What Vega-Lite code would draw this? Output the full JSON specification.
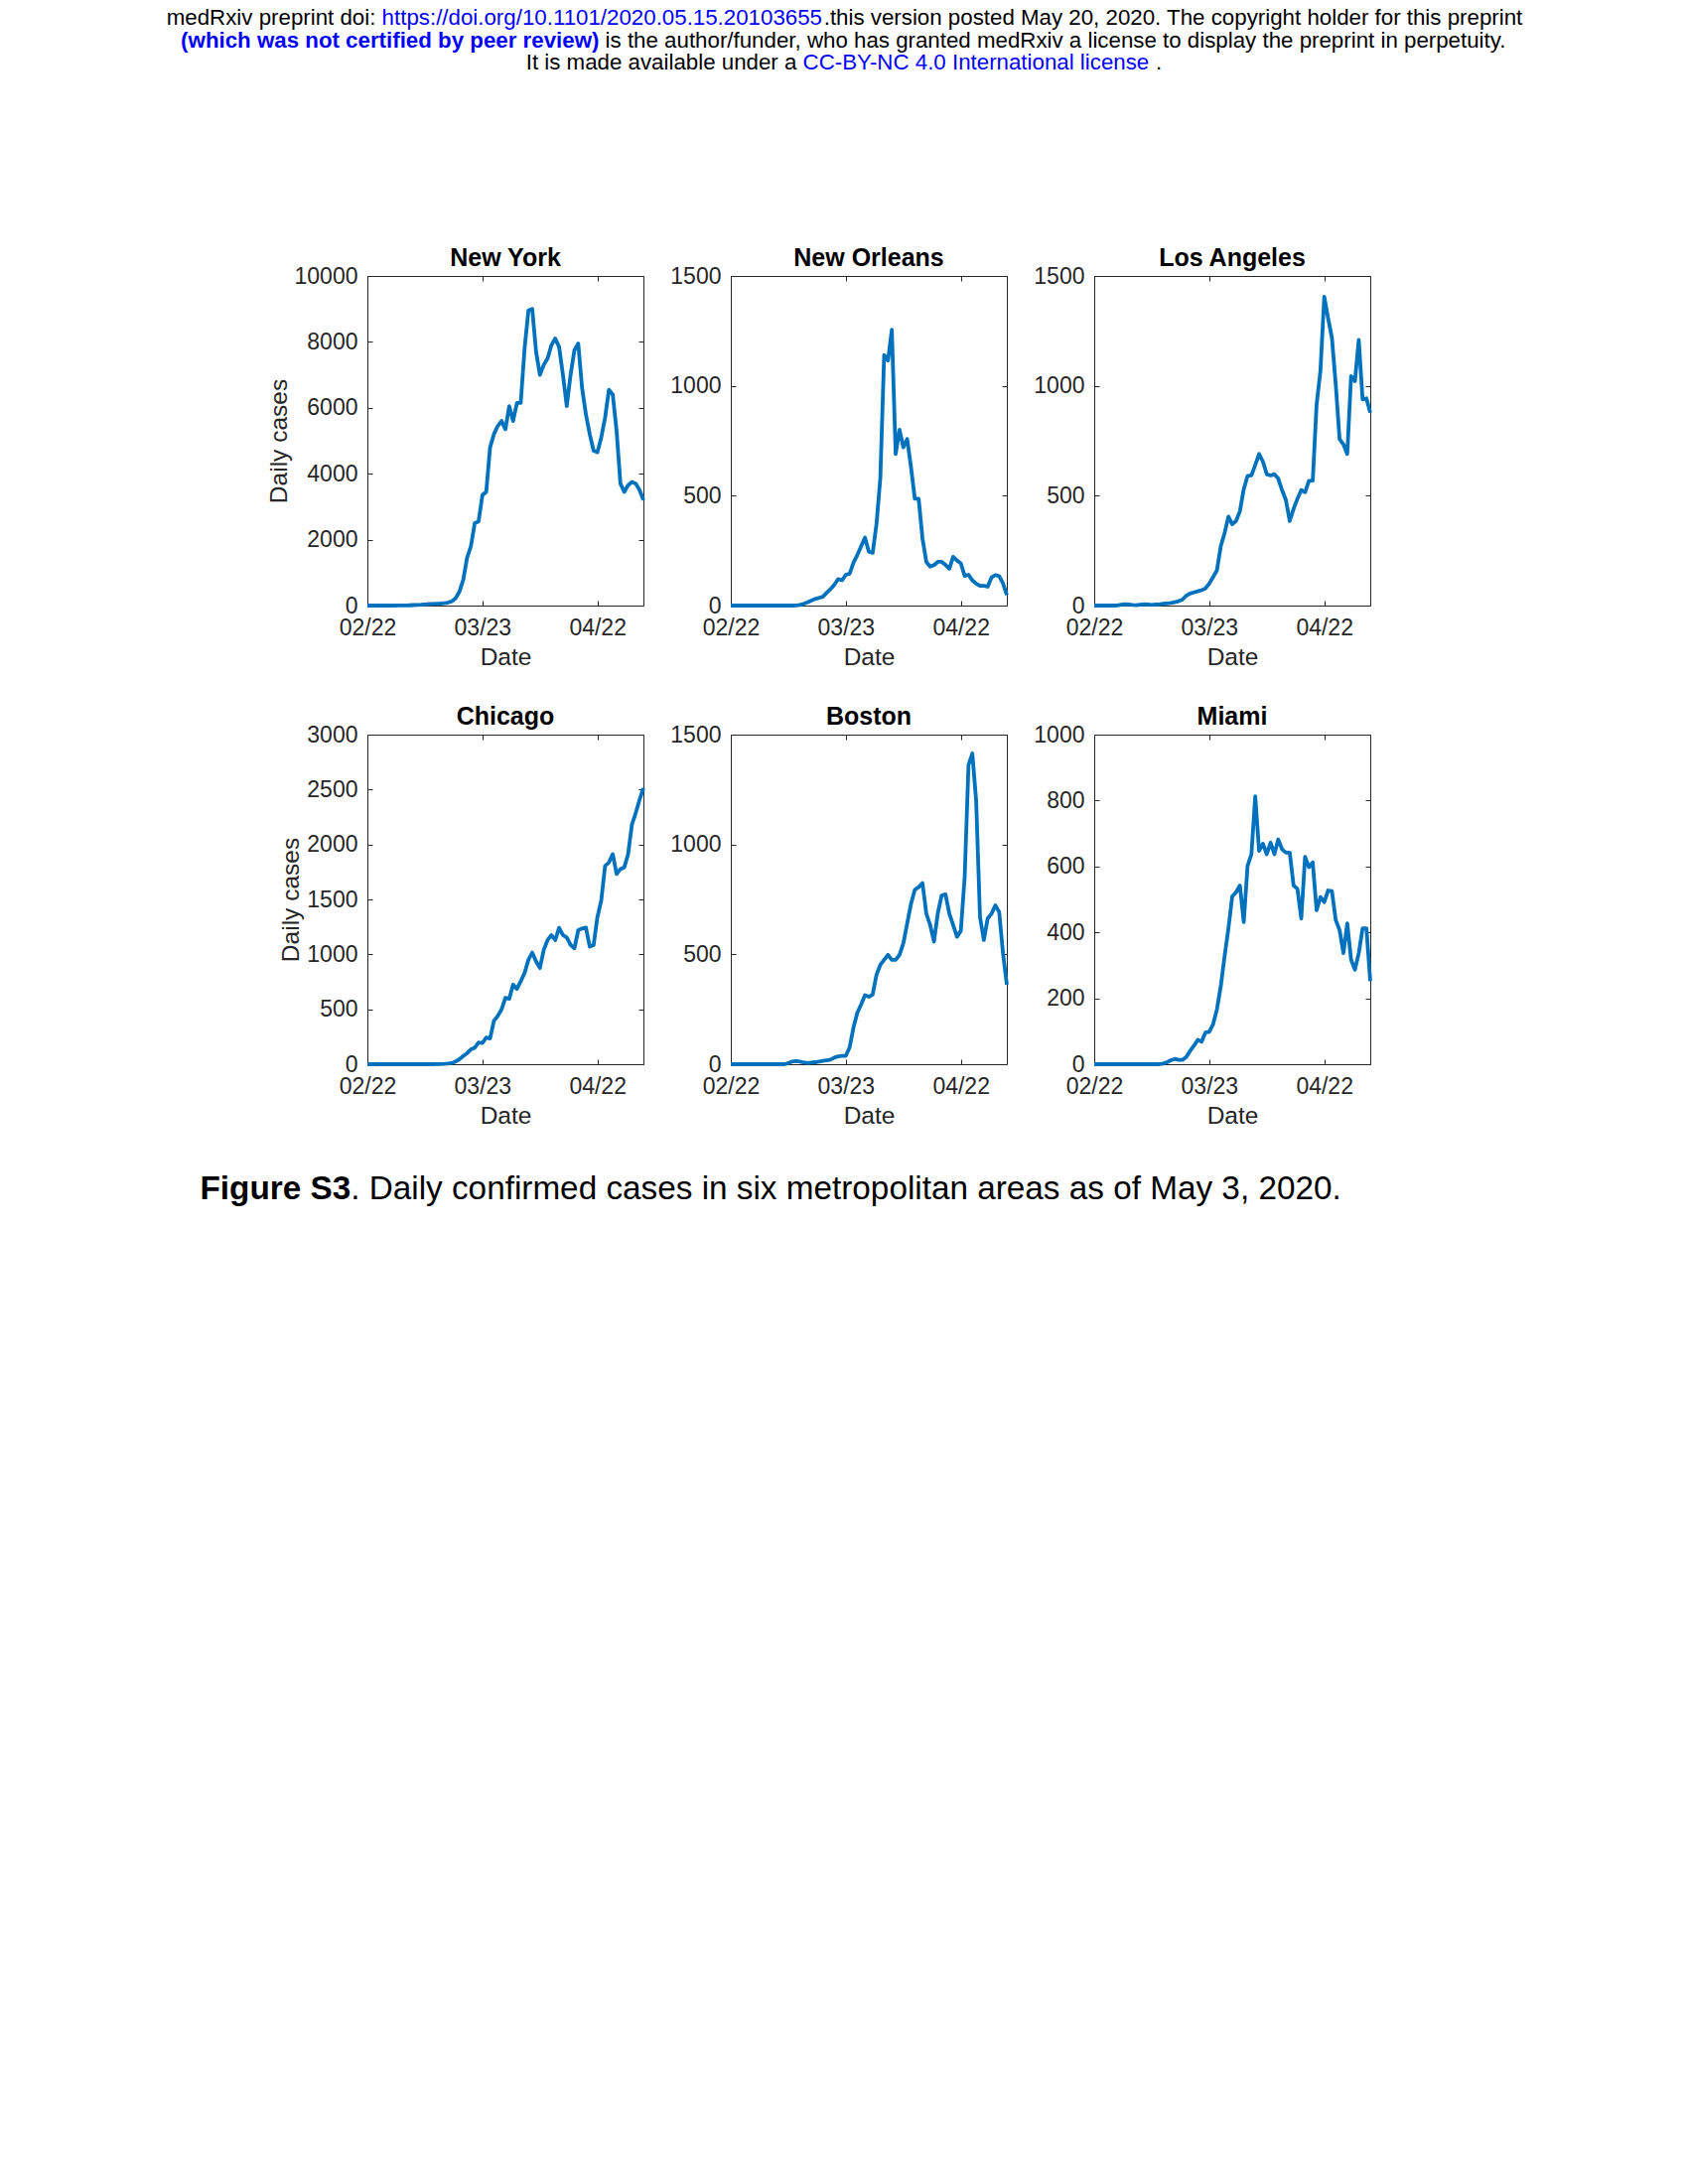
{
  "$schema": "https://vega.github.io/schema/vega-lite/v6.json",
  "background": "white",
  "padding": {"left": 167, "top": 7, "right": 10, "bottom": 10},
  "data": {"values": [
    {"date":"2020-02-22","NY":0,"NO":0,"LA":0,"CHI":0,"BOS":0,"MIA":0},
    {"date":"2020-02-23","NY":0,"NO":0,"LA":0,"CHI":0,"BOS":0,"MIA":0},
    {"date":"2020-02-24","NY":0,"NO":0,"LA":0,"CHI":0,"BOS":0,"MIA":0},
    {"date":"2020-02-25","NY":0,"NO":0,"LA":0,"CHI":0,"BOS":0,"MIA":0},
    {"date":"2020-02-26","NY":0,"NO":0,"LA":0,"CHI":0,"BOS":0,"MIA":0},
    {"date":"2020-02-27","NY":0,"NO":0,"LA":0,"CHI":0,"BOS":0,"MIA":0},
    {"date":"2020-02-28","NY":0,"NO":0,"LA":1,"CHI":0,"BOS":0,"MIA":0},
    {"date":"2020-02-29","NY":0,"NO":0,"LA":4,"CHI":0,"BOS":0,"MIA":0},
    {"date":"2020-03-01","NY":1,"NO":0,"LA":6,"CHI":0,"BOS":0,"MIA":0},
    {"date":"2020-03-02","NY":1,"NO":0,"LA":5,"CHI":0,"BOS":0,"MIA":0},
    {"date":"2020-03-03","NY":3,"NO":0,"LA":3,"CHI":0,"BOS":0,"MIA":0},
    {"date":"2020-03-04","NY":8,"NO":0,"LA":2,"CHI":0,"BOS":0,"MIA":0},
    {"date":"2020-03-05","NY":15,"NO":0,"LA":4,"CHI":0,"BOS":0,"MIA":0},
    {"date":"2020-03-06","NY":20,"NO":0,"LA":6,"CHI":0,"BOS":0,"MIA":0},
    {"date":"2020-03-07","NY":25,"NO":0,"LA":5,"CHI":0,"BOS":0,"MIA":0},
    {"date":"2020-03-08","NY":35,"NO":0,"LA":3,"CHI":0,"BOS":5,"MIA":0},
    {"date":"2020-03-09","NY":45,"NO":0,"LA":5,"CHI":0,"BOS":12,"MIA":0},
    {"date":"2020-03-10","NY":50,"NO":1,"LA":5,"CHI":0,"BOS":14,"MIA":0},
    {"date":"2020-03-11","NY":55,"NO":3,"LA":8,"CHI":1,"BOS":12,"MIA":2},
    {"date":"2020-03-12","NY":60,"NO":8,"LA":10,"CHI":2,"BOS":8,"MIA":6},
    {"date":"2020-03-13","NY":75,"NO":15,"LA":12,"CHI":3,"BOS":5,"MIA":12},
    {"date":"2020-03-14","NY":90,"NO":23,"LA":15,"CHI":5,"BOS":7,"MIA":16},
    {"date":"2020-03-15","NY":130,"NO":30,"LA":20,"CHI":10,"BOS":9,"MIA":13},
    {"date":"2020-03-16","NY":220,"NO":35,"LA":27,"CHI":25,"BOS":12,"MIA":13},
    {"date":"2020-03-17","NY":420,"NO":40,"LA":45,"CHI":45,"BOS":15,"MIA":22},
    {"date":"2020-03-18","NY":780,"NO":58,"LA":55,"CHI":75,"BOS":18,"MIA":40},
    {"date":"2020-03-19","NY":1450,"NO":75,"LA":60,"CHI":100,"BOS":21,"MIA":56},
    {"date":"2020-03-20","NY":1800,"NO":95,"LA":65,"CHI":135,"BOS":30,"MIA":74},
    {"date":"2020-03-21","NY":2500,"NO":120,"LA":70,"CHI":150,"BOS":36,"MIA":68},
    {"date":"2020-03-22","NY":2550,"NO":115,"LA":78,"CHI":198,"BOS":38,"MIA":96},
    {"date":"2020-03-23","NY":3350,"NO":140,"LA":100,"CHI":192,"BOS":38,"MIA":98},
    {"date":"2020-03-24","NY":3450,"NO":145,"LA":130,"CHI":243,"BOS":77,"MIA":121},
    {"date":"2020-03-25","NY":4800,"NO":195,"LA":160,"CHI":234,"BOS":167,"MIA":166},
    {"date":"2020-03-26","NY":5200,"NO":230,"LA":270,"CHI":394,"BOS":234,"MIA":236},
    {"date":"2020-03-27","NY":5450,"NO":270,"LA":330,"CHI":439,"BOS":272,"MIA":327},
    {"date":"2020-03-28","NY":5600,"NO":310,"LA":405,"CHI":499,"BOS":314,"MIA":412},
    {"date":"2020-03-29","NY":5350,"NO":245,"LA":370,"CHI":604,"BOS":307,"MIA":509},
    {"date":"2020-03-30","NY":6050,"NO":240,"LA":385,"CHI":595,"BOS":317,"MIA":522},
    {"date":"2020-03-31","NY":5600,"NO":370,"LA":430,"CHI":724,"BOS":407,"MIA":542},
    {"date":"2020-04-01","NY":6150,"NO":580,"LA":530,"CHI":685,"BOS":452,"MIA":431},
    {"date":"2020-04-02","NY":6150,"NO":1140,"LA":590,"CHI":755,"BOS":475,"MIA":602},
    {"date":"2020-04-03","NY":7800,"NO":1115,"LA":592,"CHI":830,"BOS":498,"MIA":637},
    {"date":"2020-04-04","NY":8950,"NO":1255,"LA":640,"CHI":950,"BOS":475,"MIA":813},
    {"date":"2020-04-05","NY":9000,"NO":690,"LA":690,"CHI":1016,"BOS":475,"MIA":647},
    {"date":"2020-04-06","NY":7700,"NO":800,"LA":655,"CHI":935,"BOS":498,"MIA":669},
    {"date":"2020-04-07","NY":7000,"NO":720,"LA":598,"CHI":875,"BOS":550,"MIA":637},
    {"date":"2020-04-08","NY":7300,"NO":758,"LA":592,"CHI":1040,"BOS":640,"MIA":672},
    {"date":"2020-04-09","NY":7500,"NO":630,"LA":598,"CHI":1130,"BOS":730,"MIA":637},
    {"date":"2020-04-10","NY":7900,"NO":486,"LA":578,"CHI":1175,"BOS":794,"MIA":682},
    {"date":"2020-04-11","NY":8100,"NO":486,"LA":525,"CHI":1130,"BOS":806,"MIA":652},
    {"date":"2020-04-12","NY":7850,"NO":305,"LA":480,"CHI":1241,"BOS":824,"MIA":642},
    {"date":"2020-04-13","NY":7000,"NO":199,"LA":385,"CHI":1175,"BOS":685,"MIA":642},
    {"date":"2020-04-14","NY":6050,"NO":177,"LA":440,"CHI":1154,"BOS":633,"MIA":542},
    {"date":"2020-04-15","NY":7000,"NO":184,"LA":486,"CHI":1085,"BOS":558,"MIA":532},
    {"date":"2020-04-16","NY":7750,"NO":199,"LA":525,"CHI":1055,"BOS":688,"MIA":442},
    {"date":"2020-04-17","NY":7950,"NO":199,"LA":516,"CHI":1220,"BOS":768,"MIA":629},
    {"date":"2020-04-18","NY":6600,"NO":185,"LA":568,"CHI":1235,"BOS":773,"MIA":598},
    {"date":"2020-04-19","NY":5800,"NO":168,"LA":569,"CHI":1244,"BOS":685,"MIA":612},
    {"date":"2020-04-20","NY":5200,"NO":222,"LA":914,"CHI":1070,"BOS":633,"MIA":467},
    {"date":"2020-04-21","NY":4700,"NO":205,"LA":1067,"CHI":1085,"BOS":580,"MIA":507},
    {"date":"2020-04-22","NY":4650,"NO":192,"LA":1406,"CHI":1340,"BOS":607,"MIA":492},
    {"date":"2020-04-23","NY":5100,"NO":135,"LA":1308,"CHI":1490,"BOS":851,"MIA":527},
    {"date":"2020-04-24","NY":5700,"NO":140,"LA":1218,"CHI":1806,"BOS":1362,"MIA":525},
    {"date":"2020-04-25","NY":6550,"NO":115,"LA":1006,"CHI":1836,"BOS":1414,"MIA":437},
    {"date":"2020-04-26","NY":6400,"NO":100,"LA":757,"CHI":1912,"BOS":1197,"MIA":407},
    {"date":"2020-04-27","NY":5300,"NO":90,"LA":734,"CHI":1731,"BOS":670,"MIA":337},
    {"date":"2020-04-28","NY":3700,"NO":90,"LA":690,"CHI":1776,"BOS":565,"MIA":427},
    {"date":"2020-04-29","NY":3450,"NO":86,"LA":1044,"CHI":1791,"BOS":663,"MIA":317},
    {"date":"2020-04-30","NY":3650,"NO":128,"LA":1021,"CHI":1912,"BOS":685,"MIA":287},
    {"date":"2020-05-01","NY":3750,"NO":139,"LA":1209,"CHI":2182,"BOS":723,"MIA":337},
    {"date":"2020-05-02","NY":3700,"NO":134,"LA":938,"CHI":2288,"BOS":693,"MIA":412},
    {"date":"2020-05-03","NY":3500,"NO":101,"LA":943,"CHI":2408,"BOS":505,"MIA":412},
    {"date":"2020-05-04","NY":3200,"NO":48,"LA":878,"CHI":2513,"BOS":362,"MIA":252}
  ]},
  "columns": 3,
  "bounds": "flush",
  "spacing": {"row": 130, "column": 88},
  "concat": [
    {
      "width": 278, "height": 332,
      "layer": [
        {"mark": {"type": "line", "color": "#0072BD", "strokeWidth": 3.8, "strokeJoin": "round"},
         "encoding": {
           "x": {"field": "date", "type": "temporal", "scale": {"type": "utc", "domain": [{"year":2020,"month":2,"date":22,"utc":true},{"year":2020,"month":5,"date":4,"utc":true}]},
                 "axis": {"values": [{"year":2020,"month":2,"date":22,"utc":true},{"year":2020,"month":3,"date":23,"utc":true},{"year":2020,"month":4,"date":22,"utc":true}], "format": "%m/%d", "title": "Date"}},
           "y": {"field": "NY", "type": "quantitative", "scale": {"domain": [0, 10000], "nice": false}, "axis": {"values": [0,2000,4000,6000,8000,10000], "format": "d", "title": "Daily cases"}}}},
        {"mark": {"type": "line", "opacity": 0},
         "encoding": {
           "x": {"field": "date", "type": "temporal", "axis": {"orient": "top", "labels": false, "title": null, "values": [{"year":2020,"month":2,"date":22,"utc":true},{"year":2020,"month":3,"date":23,"utc":true},{"year":2020,"month":4,"date":22,"utc":true}]}},
           "y": {"field": "NY", "type": "quantitative", "axis": {"orient": "right", "labels": false, "title": null, "values": [0,2000,4000,6000,8000,10000]}}}},
        {"data": {"values": [{"t": "New York"}]},
         "mark": {"type": "text", "font": "Liberation Sans", "fontSize": 25, "fontWeight": "bold", "baseline": "alphabetic", "align": "center", "dy": -176, "color": "#000000"},
         "encoding": {"text": {"field": "t"}}},
        {"data": {"values": [{"t": "medRxiv preprint doi:"}]},
         "mark": {"type": "text", "font": "Liberation Sans", "fontSize": 22.3, "baseline": "alphabetic", "align": "right", "dx": -130.6, "dy": -418.8, "color": "#000000"},
         "encoding": {"text": {"field": "t"}}},
        {"data": {"values": [{"t": "https://doi.org/10.1101/2020.05.15.20103655"}]},
         "mark": {"type": "text", "font": "Liberation Sans", "fontSize": 22.3, "baseline": "alphabetic", "align": "left", "dx": -124.4, "dy": -418.8, "color": "#0000FF"},
         "encoding": {"text": {"field": "t"}}},
        {"data": {"values": [{"t": ".this version posted May 20, 2020. The copyright holder for this preprint"}]},
         "mark": {"type": "text", "font": "Liberation Sans", "fontSize": 22.3, "baseline": "alphabetic", "align": "left", "dx": 320.7, "dy": -418.8, "color": "#000000"},
         "encoding": {"text": {"field": "t"}}},
        {"data": {"values": [{"t": "(which was not certified by peer review)"}]},
         "mark": {"type": "text", "font": "Liberation Sans", "fontSize": 22.3, "fontWeight": "bold", "baseline": "alphabetic", "align": "right", "dx": 94.4, "dy": -396.3, "color": "#0000FF"},
         "encoding": {"text": {"field": "t"}}},
        {"data": {"values": [{"t": "is the author/funder, who has granted medRxiv a license to display the preprint in perpetuity."}]},
         "mark": {"type": "text", "font": "Liberation Sans", "fontSize": 22.3, "baseline": "alphabetic", "align": "left", "dx": 100.6, "dy": -396.3, "color": "#000000"},
         "encoding": {"text": {"field": "t"}}},
        {"data": {"values": [{"t": "It is made available under a"}]},
         "mark": {"type": "text", "font": "Liberation Sans", "fontSize": 22.3, "baseline": "alphabetic", "align": "right", "dx": 293.4, "dy": -373.8, "color": "#000000"},
         "encoding": {"text": {"field": "t"}}},
        {"data": {"values": [{"t": "CC-BY-NC 4.0 International license"}]},
         "mark": {"type": "text", "font": "Liberation Sans", "fontSize": 22.3, "baseline": "alphabetic", "align": "left", "dx": 299.6, "dy": -373.8, "color": "#0000FF"},
         "encoding": {"text": {"field": "t"}}},
        {"data": {"values": [{"t": "."}]},
         "mark": {"type": "text", "font": "Liberation Sans", "fontSize": 22.3, "baseline": "alphabetic", "align": "left", "dx": 655, "dy": -373.8, "color": "#000000"},
         "encoding": {"text": {"field": "t"}}}
      ],
      "resolve": {"axis": {"x": "independent", "y": "independent"}}
    },
    {
      "title": "New Orleans",
      "width": 278, "height": 332,
      "layer": [
        {"mark": {"type": "line", "color": "#0072BD", "strokeWidth": 3.8, "strokeJoin": "round"},
         "encoding": {
           "x": {"field": "date", "type": "temporal", "scale": {"type": "utc", "domain": [{"year":2020,"month":2,"date":22,"utc":true},{"year":2020,"month":5,"date":4,"utc":true}]},
                 "axis": {"values": [{"year":2020,"month":2,"date":22,"utc":true},{"year":2020,"month":3,"date":23,"utc":true},{"year":2020,"month":4,"date":22,"utc":true}], "format": "%m/%d", "title": "Date"}},
           "y": {"field": "NO", "type": "quantitative", "scale": {"domain": [0, 1500], "nice": false}, "axis": {"values": [0,500,1000,1500], "format": "d", "title": null}}}},
        {"mark": {"type": "line", "opacity": 0},
         "encoding": {
           "x": {"field": "date", "type": "temporal", "axis": {"orient": "top", "labels": false, "title": null, "values": [{"year":2020,"month":2,"date":22,"utc":true},{"year":2020,"month":3,"date":23,"utc":true},{"year":2020,"month":4,"date":22,"utc":true}]}},
           "y": {"field": "NO", "type": "quantitative", "axis": {"orient": "right", "labels": false, "title": null, "values": [0,500,1000,1500]}}}}
      ],
      "resolve": {"axis": {"x": "independent", "y": "independent"}}
    },
    {
      "title": "Los Angeles",
      "width": 278, "height": 332,
      "layer": [
        {"mark": {"type": "line", "color": "#0072BD", "strokeWidth": 3.8, "strokeJoin": "round"},
         "encoding": {
           "x": {"field": "date", "type": "temporal", "scale": {"type": "utc", "domain": [{"year":2020,"month":2,"date":22,"utc":true},{"year":2020,"month":5,"date":4,"utc":true}]},
                 "axis": {"values": [{"year":2020,"month":2,"date":22,"utc":true},{"year":2020,"month":3,"date":23,"utc":true},{"year":2020,"month":4,"date":22,"utc":true}], "format": "%m/%d", "title": "Date"}},
           "y": {"field": "LA", "type": "quantitative", "scale": {"domain": [0, 1500], "nice": false}, "axis": {"values": [0,500,1000,1500], "format": "d", "title": null}}}},
        {"mark": {"type": "line", "opacity": 0},
         "encoding": {
           "x": {"field": "date", "type": "temporal", "axis": {"orient": "top", "labels": false, "title": null, "values": [{"year":2020,"month":2,"date":22,"utc":true},{"year":2020,"month":3,"date":23,"utc":true},{"year":2020,"month":4,"date":22,"utc":true}]}},
           "y": {"field": "LA", "type": "quantitative", "axis": {"orient": "right", "labels": false, "title": null, "values": [0,500,1000,1500]}}}}
      ],
      "resolve": {"axis": {"x": "independent", "y": "independent"}}
    },
    {
      "title": "Chicago",
      "width": 278, "height": 332,
      "layer": [
        {"mark": {"type": "line", "color": "#0072BD", "strokeWidth": 3.8, "strokeJoin": "round"},
         "encoding": {
           "x": {"field": "date", "type": "temporal", "scale": {"type": "utc", "domain": [{"year":2020,"month":2,"date":22,"utc":true},{"year":2020,"month":5,"date":4,"utc":true}]},
                 "axis": {"values": [{"year":2020,"month":2,"date":22,"utc":true},{"year":2020,"month":3,"date":23,"utc":true},{"year":2020,"month":4,"date":22,"utc":true}], "format": "%m/%d", "title": "Date"}},
           "y": {"field": "CHI", "type": "quantitative", "scale": {"domain": [0, 3000], "nice": false}, "axis": {"values": [0,500,1000,1500,2000,2500,3000], "format": "d", "title": "Daily cases"}}}},
        {"mark": {"type": "line", "opacity": 0},
         "encoding": {
           "x": {"field": "date", "type": "temporal", "axis": {"orient": "top", "labels": false, "title": null, "values": [{"year":2020,"month":2,"date":22,"utc":true},{"year":2020,"month":3,"date":23,"utc":true},{"year":2020,"month":4,"date":22,"utc":true}]}},
           "y": {"field": "CHI", "type": "quantitative", "axis": {"orient": "right", "labels": false, "title": null, "values": [0,500,1000,1500,2000,2500,3000]}}}},
        {"data": {"values": [{"t": "Figure S3"}]},
         "mark": {"type": "text", "font": "Liberation Sans", "fontSize": 33.3, "fontWeight": "bold", "baseline": "alphabetic", "align": "right", "dx": -155.8, "dy": 302.3, "color": "#000000"},
         "encoding": {"text": {"field": "t"}}},
        {"data": {"values": [{"t": ". Daily confirmed cases in six metropolitan areas as of May 3, 2020."}]},
         "mark": {"type": "text", "font": "Liberation Sans", "fontSize": 33.3, "baseline": "alphabetic", "align": "left", "dx": -155.8, "dy": 302.3, "color": "#000000"},
         "encoding": {"text": {"field": "t"}}}
      ],
      "resolve": {"axis": {"x": "independent", "y": "independent"}}
    },
    {
      "title": "Boston",
      "width": 278, "height": 332,
      "layer": [
        {"mark": {"type": "line", "color": "#0072BD", "strokeWidth": 3.8, "strokeJoin": "round"},
         "encoding": {
           "x": {"field": "date", "type": "temporal", "scale": {"type": "utc", "domain": [{"year":2020,"month":2,"date":22,"utc":true},{"year":2020,"month":5,"date":4,"utc":true}]},
                 "axis": {"values": [{"year":2020,"month":2,"date":22,"utc":true},{"year":2020,"month":3,"date":23,"utc":true},{"year":2020,"month":4,"date":22,"utc":true}], "format": "%m/%d", "title": "Date"}},
           "y": {"field": "BOS", "type": "quantitative", "scale": {"domain": [0, 1500], "nice": false}, "axis": {"values": [0,500,1000,1500], "format": "d", "title": null}}}},
        {"mark": {"type": "line", "opacity": 0},
         "encoding": {
           "x": {"field": "date", "type": "temporal", "axis": {"orient": "top", "labels": false, "title": null, "values": [{"year":2020,"month":2,"date":22,"utc":true},{"year":2020,"month":3,"date":23,"utc":true},{"year":2020,"month":4,"date":22,"utc":true}]}},
           "y": {"field": "BOS", "type": "quantitative", "axis": {"orient": "right", "labels": false, "title": null, "values": [0,500,1000,1500]}}}}
      ],
      "resolve": {"axis": {"x": "independent", "y": "independent"}}
    },
    {
      "title": "Miami",
      "width": 278, "height": 332,
      "layer": [
        {"mark": {"type": "line", "color": "#0072BD", "strokeWidth": 3.8, "strokeJoin": "round"},
         "encoding": {
           "x": {"field": "date", "type": "temporal", "scale": {"type": "utc", "domain": [{"year":2020,"month":2,"date":22,"utc":true},{"year":2020,"month":5,"date":4,"utc":true}]},
                 "axis": {"values": [{"year":2020,"month":2,"date":22,"utc":true},{"year":2020,"month":3,"date":23,"utc":true},{"year":2020,"month":4,"date":22,"utc":true}], "format": "%m/%d", "title": "Date"}},
           "y": {"field": "MIA", "type": "quantitative", "scale": {"domain": [0, 1000], "nice": false}, "axis": {"values": [0,200,400,600,800,1000], "format": "d", "title": null}}}},
        {"mark": {"type": "line", "opacity": 0},
         "encoding": {
           "x": {"field": "date", "type": "temporal", "axis": {"orient": "top", "labels": false, "title": null, "values": [{"year":2020,"month":2,"date":22,"utc":true},{"year":2020,"month":3,"date":23,"utc":true},{"year":2020,"month":4,"date":22,"utc":true}]}},
           "y": {"field": "MIA", "type": "quantitative", "axis": {"orient": "right", "labels": false, "title": null, "values": [0,200,400,600,800,1000]}}}}
      ],
      "resolve": {"axis": {"x": "independent", "y": "independent"}}
    }
  ],
  "config": {
    "view": {"stroke": null},
    "font": "Liberation Sans",
    "axis": {"labelFont": "Liberation Sans", "labelFontSize": 23, "labelColor": "#262626", "titleFont": "Liberation Sans", "titleFontSize": 24.5, "titleFontWeight": "normal", "titleColor": "#262626", "domainColor": "#262626", "domainWidth": 1, "tickColor": "#262626", "tickWidth": 1, "tickSize": -5, "grid": false, "labelFlush": false, "labelOverlap": false},
    "axisBottom": {"labelPadding": 16, "titlePadding": 6},
    "axisLeft": {"labelPadding": 15, "titlePadding": 3},
    "title": {"font": "Liberation Sans", "fontSize": 25, "fontWeight": "bold", "color": "#000000", "offset": -6, "frame": "group"}
  }
}
